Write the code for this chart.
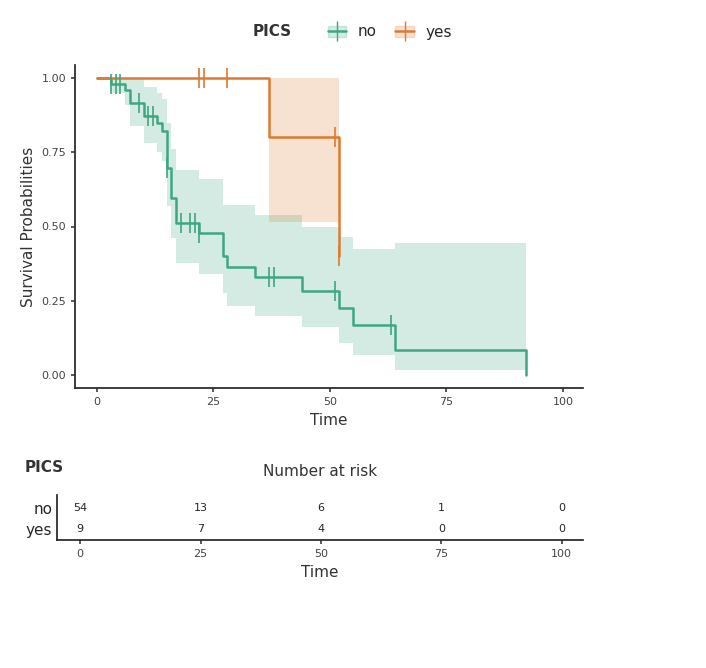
import numpy as np, pandas as pd, matplotlib
matplotlib.use("Agg")
import matplotlib.pyplot as plt, seaborn as sns
from matplotlib.lines import Line2D
from matplotlib.patches import Patch

sns.set_theme(style="ticks")
plt.rcParams['font.family'] = ['DejaVu Sans']

# Kaplan-Meier estimates
no_time  = [0, 3, 6, 7, 10, 13, 14, 15, 16, 17, 22, 27, 28, 34, 44, 52, 55, 64, 92]
no_surv  = [1.0, 0.981, 0.96, 0.917, 0.872, 0.848, 0.822, 0.698, 0.596, 0.512, 0.478, 0.40, 0.365, 0.33, 0.283, 0.226, 0.168, 0.084, 0.0]
no_low   = [1.0, 0.95, 0.91, 0.84, 0.78, 0.75, 0.72, 0.57, 0.46, 0.376, 0.34, 0.275, 0.232, 0.20, 0.163, 0.109, 0.067, 0.017, 0.017]
no_up    = [1.0, 1.0, 1.0, 1.0, 0.97, 0.95, 0.93, 0.85, 0.76, 0.69, 0.66, 0.572, 0.572, 0.54, 0.50, 0.466, 0.424, 0.445, 0.445]
no_cens_t = [3, 4, 5, 9, 11, 12, 15, 18, 20, 21, 22, 37, 38, 51, 63]
yes_time = [0, 37, 52]
yes_surv = [1.0, 0.80, 0.40]
yes_low  = [1.0, 0.515, 0.515]
yes_up   = [1.0, 1.0, 1.0]
yes_cens_t = [22, 23, 28, 51, 52]

risk_times = [0, 25, 50, 75, 100]
risk_no  = [54, 13, 6, 1, 0]
risk_yes = [9, 7, 4, 0, 0]

c_no, c_yes = "#3fa680", "#dc7a31"

def surv_at(ts, ss, t):
    idx = np.searchsorted(ts, t, side="right") - 1
    return ss[idx]

fig = plt.figure(figsize=(7.06, 6.68), dpi=100)
W, H = 706, 668
ax = fig.add_axes([75/W, 1-388/H, (583-75)/W, (388-65)/H])

rows = []
for g, t, s in [("no", no_time, no_surv), ("yes", yes_time, yes_surv)]:
    for ti, si in zip(t, s):
        rows.append(dict(PICS=g, Time=ti, S=si))
df = pd.DataFrame(rows)
for g, t, lo, up, c in [("no", no_time, no_low, no_up, c_no), ("yes", yes_time, yes_low, yes_up, c_yes)]:
    ax.fill_between(t, lo, up, step="post", color=c, alpha=0.22, lw=0)
sns.lineplot(data=df, x="Time", y="S", hue="PICS", palette=[c_no, c_yes],
             drawstyle="steps-post", lw=1.8, ax=ax, legend=False, estimator=None)
ax.plot(no_cens_t, [surv_at(no_time, no_surv, t) for t in no_cens_t], ls="none",
        marker="|", ms=14, mew=1.2, color=c_no)
ax.plot(yes_cens_t, [surv_at(yes_time, yes_surv, t) for t in yes_cens_t], ls="none",
        marker="|", ms=14, mew=1.2, color=c_yes)
ax.set_xlim(-4.7, 104.3)
ax.set_ylim(-0.044, 1.044)
ax.set_xticks([0, 25, 50, 75, 100])
ax.set_yticks([0, 0.25, 0.5, 0.75, 1.0])
ax.set_yticklabels(["0.00", "0.25", "0.50", "0.75", "1.00"])
ax.tick_params(labelsize=8, colors="#444444", length=3)
ax.set_xlabel("Time", fontsize=11, color="#333333")
ax.set_ylabel("Survival Probabilities", fontsize=11, color="#333333")
sns.despine(ax=ax)

handles = [(Patch(color=c_no, alpha=0.22), Line2D([], [], color=c_no, marker="|", ms=14, lw=1.8)),
           (Patch(color=c_yes, alpha=0.22), Line2D([], [], color=c_yes, marker="|", ms=14, lw=1.8))]
fig.legend(handles, ["no", "yes"], loc="center", bbox_to_anchor=(390/W, 1-32/H), ncol=2,
           frameon=False, fontsize=11, handlelength=1.2, columnspacing=1.2)
fig.text(272/W, 1-31/H, "PICS", fontsize=11, fontweight="bold", ha="center", va="center", color="#333333")

# risk table
rax = fig.add_axes([57/W, 1-540/H, (583-57)/W, (540-495)/H])
rax.set_xlim(-4.8, 104.4)
rax.set_ylim(-0.5, 1.6)
for t, n in zip(risk_times, risk_no):
    rax.text(t, 1, str(n), ha="center", va="center", fontsize=8)
for t, n in zip(risk_times, risk_yes):
    rax.text(t, 0, str(n), ha="center", va="center", fontsize=8)
rax.set_yticks([1, 0])
rax.set_yticklabels(["no", "yes"], fontsize=11)
rax.tick_params(axis="y", length=0)
rax.set_xticks([0, 25, 50, 75, 100])
rax.tick_params(axis="x", labelsize=8, colors="#444444", length=3)
rax.set_xlabel("Time", fontsize=11, color="#333333")
sns.despine(ax=rax)
fig.text(320/W, 1-472/H, "Number at risk", fontsize=11, ha="center", va="center", color="#333333")
fig.text(44/W, 1-467/H, "PICS", fontsize=11, fontweight="bold", ha="center", va="center", color="#333333")

fig.savefig("out.png", dpi=100)
